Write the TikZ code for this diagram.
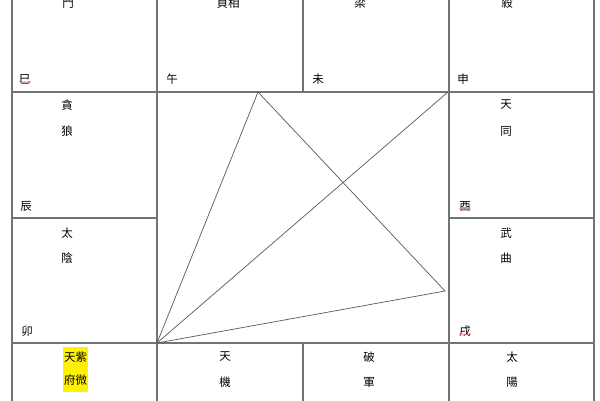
\documentclass[tikz,border=0pt]{standalone}
\usepackage{fontspec}
\newfontfamily\cjk{Noto Sans CJK TC}
\usetikzlibrary{decorations.pathmorphing}
\begin{document}
\begin{tikzpicture}[x=1pt,y=-1pt,
  gridline/.style={draw=black!55,line width=1.3pt},
  triline/.style={draw=black!65,line width=0.7pt},
  star/.style={font=\cjk\fontsize{11.5}{11.5}\selectfont, inner sep=0pt, text=black},
  hl/.style={star, fill=yellow, inner xsep=1pt, inner ysep=5pt},
  squig/.style={draw=red!55, line width=0.4pt, decorate, decoration={snake, amplitude=0.6pt, segment length=2.5pt}}]
\useasboundingbox (0,0) rectangle (600,400);
\fill[white] (0,0) rectangle (600,400);
\clip (0,0) rectangle (600,400);
% grid
\draw[gridline] (12,-5) -- (12,405);
\draw[gridline] (157,-5) -- (157,405);
\draw[gridline] (449,-5) -- (449,405);
\draw[gridline] (594,-5) -- (594,405);
\draw[gridline] (303,-5) -- (303,92);
\draw[gridline] (303,343) -- (303,405);
\draw[gridline] (12,92) -- (594,92);
\draw[gridline] (12,343) -- (594,343);
\draw[gridline] (12,218) -- (157,218);
\draw[gridline] (449,218) -- (594,218);
% triangle
\coordinate (bl) at (157,343);
\coordinate (top) at (258,92);
\coordinate (tr) at (448,92);
\coordinate (rt) at (445,291);
\draw[triline] (bl) -- (top) -- (rt) -- cycle;
\draw[triline] (bl) -- (tr);
% top row (cut at the top edge, as in the reference)
\node[star] (men) at (68,3) {門};
\node[star] (zhenxiang) at (228,3) {貞相};
\node[star] (liang) at (360,3) {梁};
\node[star] (sha) at (507,3) {殺};
\node[star] (si) at (25,79) {巳};
\node[star] (wu) at (172,79) {午};
\node[star] (wei) at (318,79) {未};
\node[star] (shen) at (463,79) {申};
% left column
\node[star] (tan) at (67,105) {貪};
\node[star] (lang) at (67,131) {狼};
\node[star] (chen) at (26,206) {辰};
\node[star] (tai1) at (67,233) {太};
\node[star] (yin) at (67,258) {陰};
\node[star] (mao) at (27,331) {卯};
% right column
\node[star] (tian1) at (506,105) {天};
\node[star] (tong) at (506,131) {同};
\node[star] (you) at (465,206) {酉};
\node[star] (wu2) at (506,233) {武};
\node[star] (qu) at (506,258) {曲};
\node[star] (xu) at (465,331) {戌};
% bottom row
\node[hl,minimum height=21pt] (ziwei1) at (75.5,357) {天紫};
\node[hl,minimum height=24pt] (ziwei2) at (75.5,380) {府微};
\node[star] (tian2) at (225,357) {天};
\node[star] (ji) at (225,382) {機};
\node[star] (po) at (369,357) {破};
\node[star] (jun) at (369,382) {軍};
\node[star] (tai2) at (512,357) {太};
\node[star] (yang) at (512,382) {陽};
% spell-check squiggles
\draw[squig] ([yshift=2pt]si.south west) -- ([yshift=2pt]si.south east);
\draw[squig] ([yshift=2pt]you.south west) -- ([yshift=2pt]you.south east);
\draw[squig] ([yshift=2pt]xu.south west) -- ([yshift=2pt]xu.south east);
\end{tikzpicture}
\end{document}
